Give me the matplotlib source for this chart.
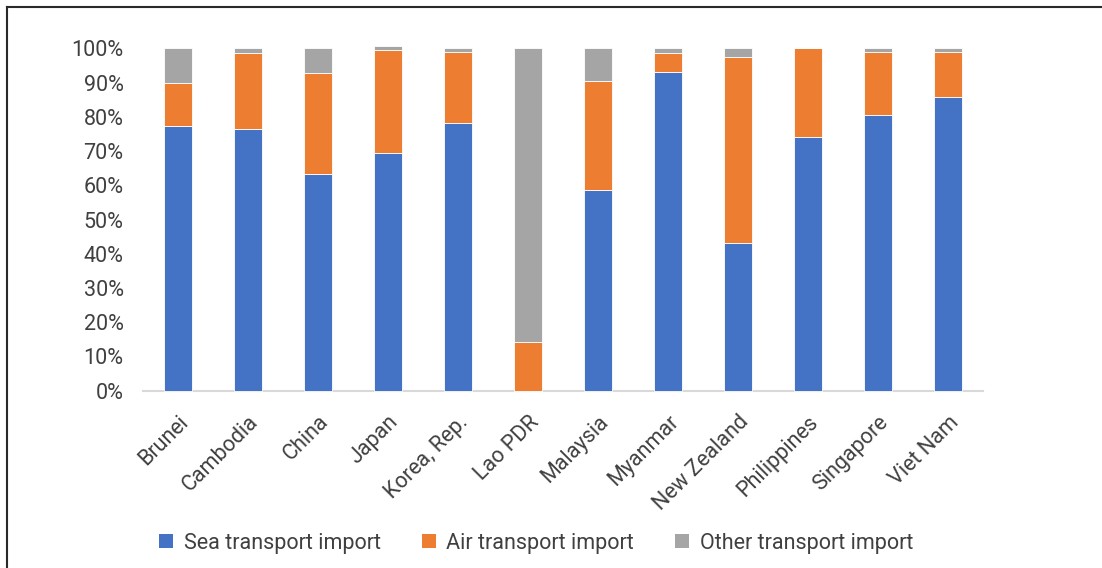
import matplotlib
matplotlib.use("Agg")
import matplotlib.pyplot as plt
from matplotlib.lines import Line2D
from matplotlib.patches import Patch

plt.rcParams['font.family'] = ['Roboto', 'DejaVu Sans']

countries = ["Brunei", "Cambodia", "China", "Japan", "Korea, Rep.", "Lao PDR",
             "Malaysia", "Myanmar", "New Zealand", "Philippines", "Singapore", "Viet Nam"]
sea = [77.4, 76.5, 63.4, 69.5, 78.1, 0.0, 58.7, 93.0, 43.1, 74.2, 80.4, 85.9]
air = [12.4, 22.0, 29.5, 30.1, 20.9, 14.3, 31.8, 5.5, 54.4, 25.8, 18.6, 13.1]
other = [10.2, 1.5, 7.1, 1.2, 1.0, 85.7, 9.5, 1.5, 2.5, 0.0, 1.0, 1.0]
series_names = ["Sea transport import", "Air transport import", "Other transport import"]
colors = ["#4472C4", "#ED7D31", "#A5A5A5"]
yticks = [0, 10, 20, 30, 40, 50, 60, 70, 80, 90, 100]

text_color = "#404040"

fig = plt.figure(figsize=(11.02, 5.68), dpi=100)
ax = fig.add_axes([143 / 1102, 1 - 390.7 / 568, 840 / 1102, 342.4 / 568])

x = list(range(len(countries)))
bottom = [0.0] * len(countries)
for vals, col in zip([sea, air, other], colors):
    ax.bar(x, vals, width=0.39, bottom=bottom, color=col, edgecolor="white",
           linewidth=0.6, clip_on=False, zorder=2)
    bottom = [b + v for b, v in zip(bottom, vals)]

ax.set_xlim(-0.5, len(countries) - 0.5)
ax.set_ylim(0, 100)
ax.set_yticks(yticks)
ax.set_yticklabels([f"{t}%" for t in yticks])
ax.set_xticks(x)
ax.set_xticklabels(countries, rotation=45, ha="right", va="top", rotation_mode="anchor")

for s in ["top", "right", "left"]:
    ax.spines[s].set_visible(False)
ax.spines["bottom"].set_color("#D9D9D9")
ax.spines["bottom"].set_linewidth(1.5)
ax.spines["bottom"].set_zorder(1)

ax.tick_params(axis="y", length=0, pad=14, labelsize=15.5, labelcolor=text_color)
ax.tick_params(axis="x", length=0, pad=15, labelsize=15.5, labelcolor=text_color)

handles = [Patch(facecolor=c, edgecolor="none") for c in colors]
fig.legend(handles, series_names, loc="center", bbox_to_anchor=(536 / 1102, 1 - 543 / 568),
           ncol=3, frameon=False, fontsize=15.5, labelcolor=text_color,
           handlelength=0.65, handleheight=0.65, handletextpad=0.5, columnspacing=1.9)

# outer border of the chart area
fig.add_artist(Line2D([7 / 1102, 7 / 1102], [0, 1 - 7 / 568], transform=fig.transFigure,
                      color="#2a2a2a", linewidth=1.5))
fig.add_artist(Line2D([7 / 1102, 1], [1 - 7 / 568, 1 - 7 / 568], transform=fig.transFigure,
                      color="#2a2a2a", linewidth=1.5))

fig.savefig("out.png", dpi=100)
